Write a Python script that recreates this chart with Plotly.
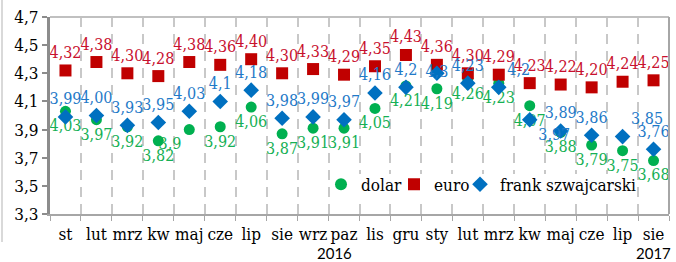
import plotly.graph_objects as go

months = ["st", "lut", "mrz", "kw", "maj", "cze", "lip", "sie", "wrz", "paz", "lis", "gru",
          "sty", "lut", "mrz", "kw", "maj", "cze", "lip", "sie"]
years = ["2016", "2017"]

dolar = [4.03, 3.97, 3.92, 3.82, 3.90, 3.92, 4.06, 3.87, 3.91, 3.91, 4.05, 4.21,
         4.19, 4.26, 4.23, 4.07, 3.88, 3.79, 3.75, 3.68]
euro = [4.32, 4.38, 4.30, 4.28, 4.38, 4.36, 4.40, 4.30, 4.33, 4.29, 4.35, 4.43,
        4.36, 4.30, 4.29, 4.23, 4.22, 4.20, 4.24, 4.25]
frank = [3.99, 4.00, 3.93, 3.95, 4.03, 4.10, 4.18, 3.98, 3.99, 3.97, 4.16, 4.20,
         4.30, 4.23, 4.20, 3.97, 3.89, 3.86, 3.85, 3.76]

dolar_labels = ["4,03", "3,97", "3,92", "3,82", "3,9", "3,92", "4,06", "3,87", "3,91", "3,91",
                "4,05", "4,21", "4,19", "4,26", "4,23", "4,07", "3,88", "3,79", "3,75", "3,68"]
euro_labels = ["4,32", "4,38", "4,30", "4,28", "4,38", "4,36", "4,40", "4,30", "4,33", "4,29",
               "4,35", "4,43", "4,36", "4,30", "4,29", "4,23", "4,22", "4,20", "4,24", "4,25"]
frank_labels = ["3,99", "4,00", "3,93", "3,95", "4,03", "4,1", "4,18", "3,98", "3,99", "3,97",
                "4,16", "4,2", "4,3", "4,23", "4,2", "3,97", "3,89", "3,86", "3,85", "3,76"]

y_ticks = [3.3, 3.5, 3.7, 3.9, 4.1, 4.3, 4.5, 4.7]
y_ticktext = ["3,3", "3,5", "3,7", "3,9", "4,1", "4,3", "4,5", "4,7"]

x = list(range(len(months)))

SERIF = "DejaVu Serif Condensed, DejaVu Serif"
SANS = "Lato"
FS = 16
GREEN, RED, BLUE = "#00B050", "#C00000", "#0070C0"

dolar_pos = ["bottom center"] * 20
dolar_pos[4] = "bottom left"
euro_pos = ["top center"] * 20
frank_pos = ["top center"] * 20
frank_pos[12] = "middle center"
frank_pos[14] = "top right"
frank_pos[15] = "bottom right"
frank_pos[18] = "top right"

fig = go.Figure()
fig.add_trace(go.Scatter(
    x=x, y=dolar, name="dolar", mode="markers+text", legend="legend",
    marker=dict(symbol="circle", size=11, color=GREEN),
    text=dolar_labels, textposition=dolar_pos,
    textfont=dict(family=SERIF, size=FS, color="#16B055"),
    cliponaxis=False))
fig.add_trace(go.Scatter(
    x=x, y=euro, name="euro", mode="markers+text", legend="legend2",
    marker=dict(symbol="square", size=12, color=RED),
    text=euro_labels, textposition=euro_pos,
    textfont=dict(family=SERIF, size=FS, color="#C8102E"),
    cliponaxis=False))
fig.add_trace(go.Scatter(
    x=x, y=frank, name="frank szwajcarski", mode="markers+text", legend="legend3",
    marker=dict(symbol="diamond", size=12, color=BLUE),
    text=frank_labels, textposition=frank_pos,
    textfont=dict(family=SERIF, size=FS, color="#1F7AC8"),
    cliponaxis=False))

boundaries = [i - 0.5 for i in range(len(months) + 1)]

def px_x(p):
    return (p - 50) / 619.0

def px_y(p):
    return (214 - p) / 197.0

leg_common = dict(orientation="h", xanchor="left", yanchor="top", y=0.24,
                  bgcolor="rgba(0,0,0,0)",
                  font=dict(family=SERIF, size=FS + 1, color="black"),
                  itemsizing="constant")

fig.update_layout(
    width=676, height=262,
    margin=dict(l=50, r=7, t=17, b=48),
    plot_bgcolor="white", paper_bgcolor="white",
    font=dict(family=SERIF, size=FS, color="black"),
    showlegend=True,
    legend=dict(x=px_x(321), **leg_common),
    legend2=dict(x=px_x(394), **leg_common),
    legend3=dict(x=px_x(460), **leg_common),
    xaxis=dict(
        range=[-0.5, 19.5], tickmode="array", tickvals=x, ticktext=months,
        showgrid=False, ticks="", zeroline=False, ticklabelstandoff=4, tickangle=0,
        showline=True, linecolor="#a6a6a6", linewidth=2,
        tickfont=dict(family=SERIF, size=FS + 1, color="black"),
        minor=dict(tickmode="array", tickvals=boundaries, ticks="outside", ticklen=5,
                   tickcolor="#a6a6a6", tickwidth=1, showgrid=True,
                   gridcolor="#c8c8c8", gridwidth=2, griddash="10px,7px"),
    ),
    yaxis=dict(
        range=[3.3, 4.7], tickmode="array", tickvals=y_ticks, ticktext=y_ticktext,
        showgrid=False, zeroline=False,
        showline=True, linecolor="#8c8c8c", linewidth=3,
        ticks="outside", ticklen=5, tickcolor="#8c8c8c", tickwidth=2,
        tickfont=dict(family=SERIF, size=FS + 1, color="black"),
    ),
    shapes=[
        dict(type="rect", xref="paper", yref="paper", layer="above",
             x0=px_x(333), x1=px_x(636), y0=px_y(199), y1=px_y(174),
             fillcolor="white", line=dict(width=0)),
        dict(type="line", xref="paper", yref="paper", x0=0, x1=1, y0=1, y1=1,
             line=dict(color="#c0c0c0", width=2)),
        dict(type="line", xref="paper", yref="paper", x0=1, x1=1, y0=0, y1=1,
             line=dict(color="#a6a6a6", width=2)),
        dict(type="line", xref="paper", yref="paper", x0=px_x(2), x1=px_x(2),
             y0=px_y(242), y1=px_y(-5),
             line=dict(color="#d9d9d9", width=2)),
    ],
    annotations=[
        dict(text=years[0], xref="paper", yref="paper", x=px_x(334), y=px_y(253),
             xanchor="center", yanchor="middle", showarrow=False,
             font=dict(family=SANS, size=15, color="black")),
        dict(text=years[1], xref="paper", yref="paper", x=px_x(653), y=px_y(253),
             xanchor="center", yanchor="middle", showarrow=False,
             font=dict(family=SANS, size=15, color="black")),
    ],
)

fig.write_html("out.html", config={"displayModeBar": False},
               post_script="document.body.style.margin='0px';")
